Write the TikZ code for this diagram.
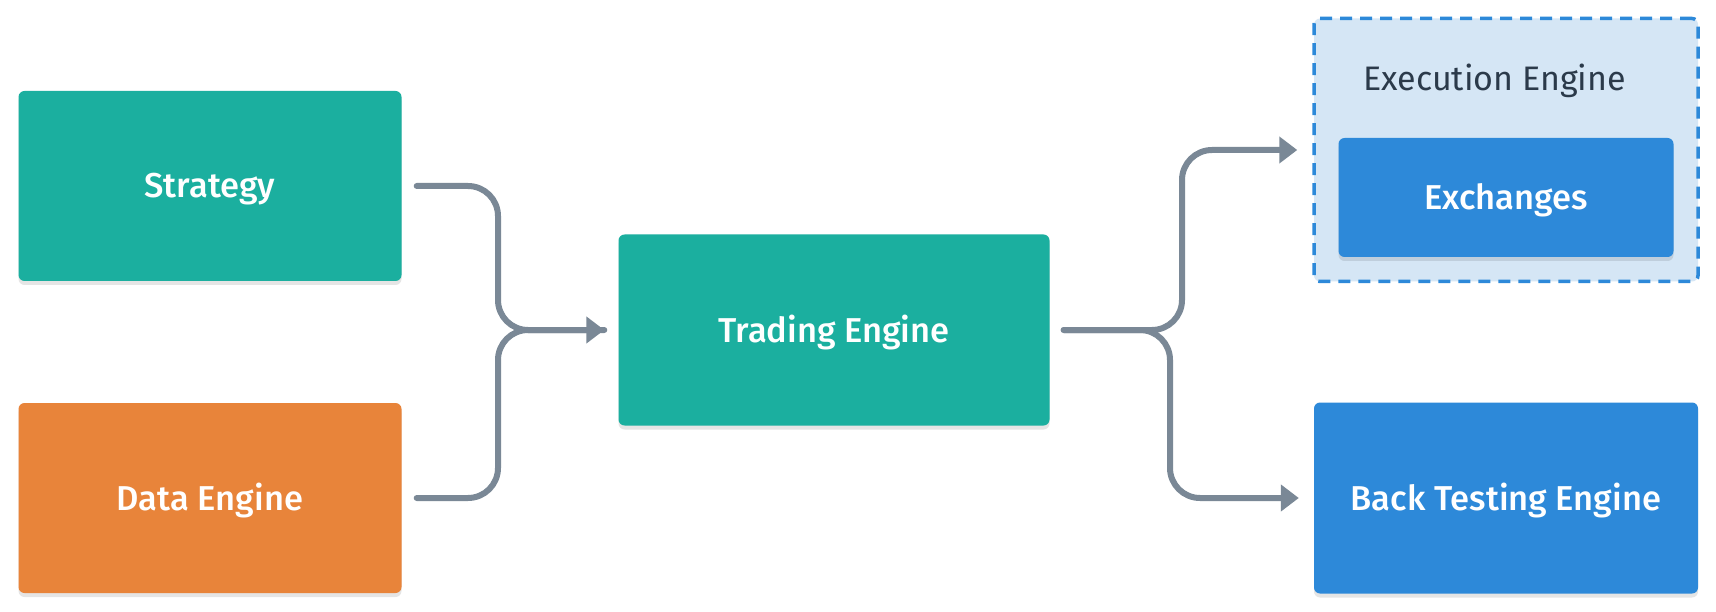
\documentclass[tikz,border=0pt]{standalone}
\usepackage{fontspec}
\setmainfont{Fira Sans}
\newfontfamily\medfont{Fira Sans}[UprightFont={* Medium}]
\usetikzlibrary{arrows.meta,shadows}
\definecolor{cTeal}{HTML}{1BAF9F}
\definecolor{cOrange}{HTML}{E8843A}
\definecolor{cBlue}{HTML}{2D89D9}
\definecolor{cPale}{HTML}{D5E6F5}
\definecolor{cLine}{HTML}{7A8896}
\definecolor{cDark}{HTML}{2B3A4A}
\begin{document}
\begin{tikzpicture}[x=1pt,y=-1pt,
  box/.style={rounded corners=6pt, text=white, inner sep=0pt,
    font=\medfont\fontsize{34.5}{40}\selectfont, text height=24pt, text depth=0pt,
    drop shadow={shadow xshift=0pt, shadow yshift=-4pt, opacity=0.10, fill=black}},
  conn/.style={draw=cLine, line width=6pt, rounded corners=30pt, line cap=round, line join=round},
  tip/.style={-{Triangle[length=18pt,width=26pt]}}]
\useasboundingbox[fill=white] (0,0) rectangle (1716,612);

\node[box, fill=cTeal, minimum width=383pt, minimum height=190pt] (strategy) at (210,186) {Strategy};
\node[box, fill=cOrange, minimum width=383pt, minimum height=190pt] (data) at (210,498) {Data Engine};
\node[box, fill=cTeal, minimum width=431pt, minimum height=191pt] (trading) at (834,330) {Trading Engine};

\node[draw=cBlue, fill=cPale, dash pattern=on 12pt off 8pt, line width=3.5pt, rounded corners=6pt,
  minimum width=384pt, minimum height=263pt, inner sep=0pt] (exec) at (1506,150) {};
\node[anchor=base west, text=cDark, font=\fontsize{34}{40}\selectfont, inner sep=0pt] (execlabel) at (1363,90.5) {Execution Engine};
\node[box, fill=cBlue, minimum width=335pt, minimum height=119pt] (exch) at (1506,197.5) {Exchanges};
\node[box, fill=cBlue, minimum width=384pt, minimum height=191pt] (back) at (1506,498) {Back Testing Engine};

\coordinate (jl) at (498,330);
\coordinate (ju) at (1182,330);
\coordinate (jd) at (1170,330);

\draw[conn] ([xshift=15pt]strategy.east) -| (jl) -- ([xshift=-14pt]trading.west);
\draw[conn, tip] ([xshift=15pt]data.east) -| (jl) -- ([xshift=-14pt]trading.west);
\draw[conn, tip] ([xshift=14pt]trading.east) -| (ju |- exec.west) -- ([xshift=-15pt]exec.west);
\draw[conn, tip] ([xshift=14pt]trading.east) -| (jd |- back.west) -- ([xshift=-15pt]back.west);
\end{tikzpicture}
\end{document}
